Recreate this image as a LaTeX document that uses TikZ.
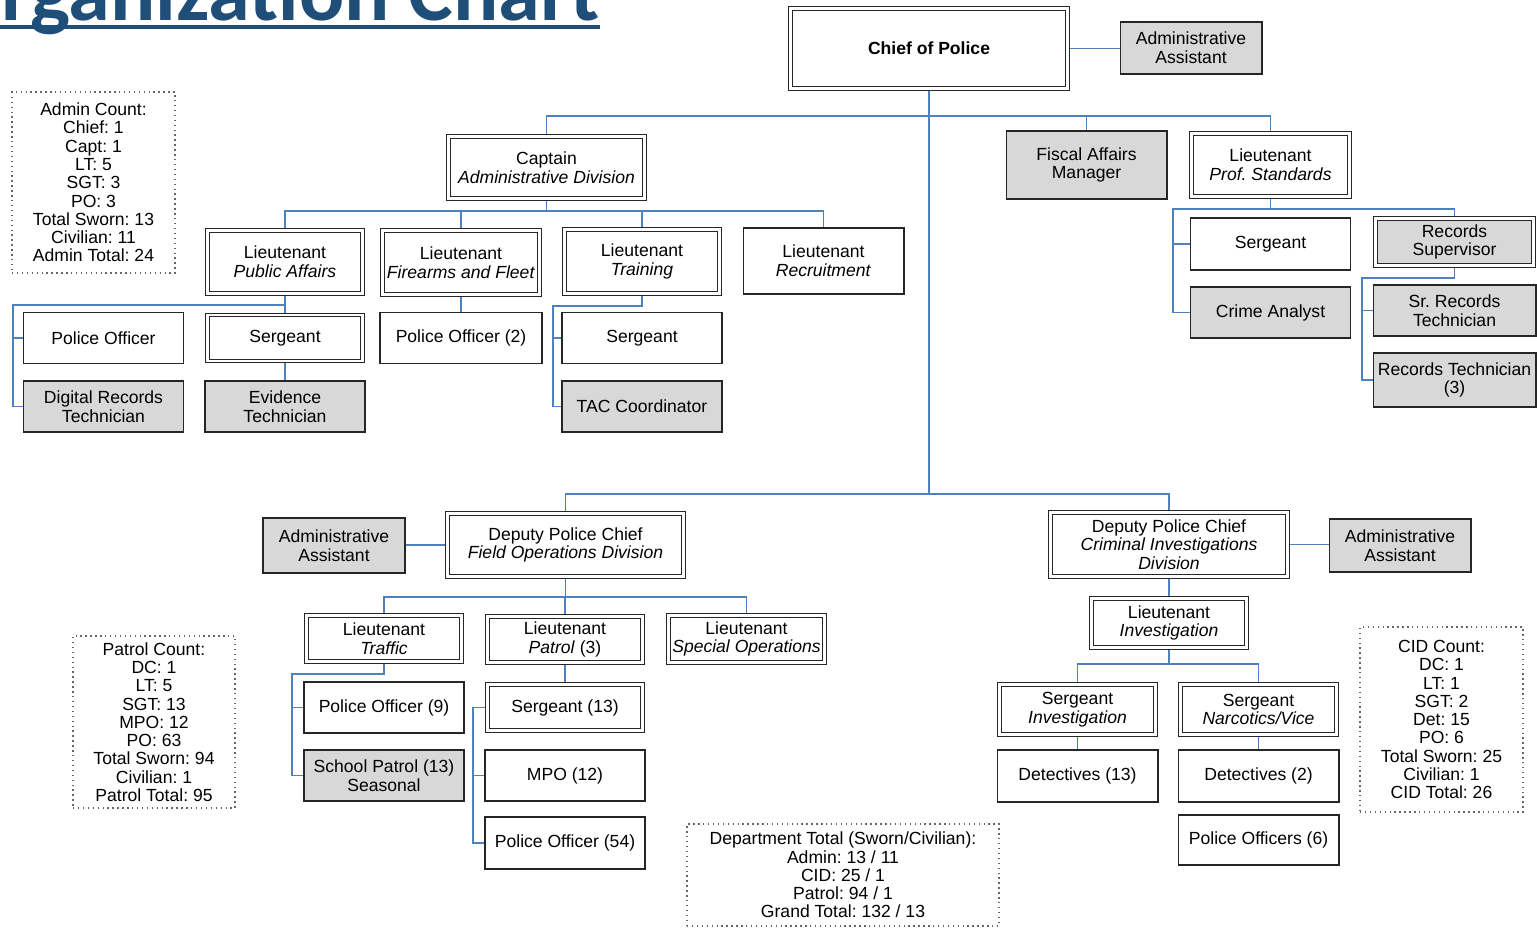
\documentclass[tikz,border=0pt]{standalone}
\usepackage{fontspec}
\setmainfont{Liberation Sans}
\newfontfamily\titlefont{Carlito}
\definecolor{linkblue}{RGB}{79,129,189}
\definecolor{boxgray}{RGB}{216,216,216}
\definecolor{titleblue}{RGB}{31,78,121}
\frenchspacing

\begin{document}
\begin{tikzpicture}[x=0.02cm, y=-0.02cm,
	every node/.style={font=\fontsize{10}{10.6}\selectfont, align=center, inner sep=0pt},
	box/.style={draw=black!85, line width=0.6pt, fill=white, minimum width=3.2cm, minimum height=1.02cm},
	dbox/.style={box, double, double distance=1.4pt, outer sep=1.3pt, minimum width=3.1cm, minimum height=0.92cm},
	gbox/.style={box, fill=boxgray},
	link/.style={linkblue, line width=0.6pt},
	tally/.style={draw=black!60, dotted, line width=0.8pt, minimum width=3.26cm, font=\fontsize{10}{10.4}\selectfont}]

	\useasboundingbox (0,0) rectangle (1537,930);
	\clip (0,0) rectangle (1537,930);

	\node[anchor=base west, font=\titlefont\bfseries\fontsize{48}{48}\selectfont, text=titleblue] (title) at (-56,20) {Organization Chart};
	\draw[titleblue, line width=2.3pt] ([yshift=-4pt]title.base west) -- ([yshift=-4pt]title.base east);

	\node[dbox, minimum width=5.54cm, minimum height=1.6cm] (chief) at (929,48.5) {\textbf{Chief of Police}};
	\node[gbox, minimum width=2.84cm, minimum height=1.04cm] (aa1) at (1191,48) {Administrative\\Assistant};

	\node[dbox, minimum width=3.92cm, minimum height=1.24cm] (capt) at (546.5,167.5) {Captain\\\textit{Administrative Division}};
	\node[gbox, minimum width=3.22cm, minimum height=1.36cm] (fiscal) at (1086.5,165) {Fiscal Affairs\\Manager};
	\node[dbox, minimum width=3.16cm, minimum height=1.26cm] (ltprof) at (1270.5,165) {Lieutenant\\\textit{Prof. Standards}};

	\node[dbox, minimum height=1.26cm] (ltpa) at (285,262) {Lieutenant\\\textit{Public Affairs}};
	\node[dbox, minimum width=3.14cm, minimum height=1.28cm] (ltff) at (461,262.5) {Lieutenant\\\textit{Firearms and Fleet}};
	\node[dbox, minimum height=1.28cm] (lttr) at (642,261.5) {Lieutenant\\\textit{Training}};
	\node[box, minimum width=3.22cm, minimum height=1.32cm] (ltrec) at (823.5,261) {Lieutenant\\\textit{Recruitment}};

	\node[box] (po1) at (103.5,338) {Police Officer};
	\node[dbox] (sgt1) at (285,338) {Sergeant};
	\node[gbox] (drt) at (103.5,406.5) {Digital Records\\Technician};
	\node[gbox] (evt) at (285,406.5) {Evidence\\Technician};
	\node[box, minimum width=3.24cm] (po2) at (461,338) {Police Officer (2)};
	\node[box] (sgt2) at (642,338) {Sergeant};
	\node[gbox] (tac) at (642,406.5) {TAC Coordinator};

	\node[box, minimum height=1.04cm] (sgt3) at (1270.5,244) {Sergeant};
	\node[gbox] (crime) at (1270.5,312.5) {Crime Analyst};
	\node[dbox, fill=boxgray, minimum width=3.16cm, minimum height=0.94cm] (recsup) at (1454.5,242) {Records\\Supervisor};
	\node[gbox, minimum width=3.26cm] (srrec) at (1454.5,310.5) {Sr. Records\\Technician};
	\node[gbox, minimum width=3.26cm, minimum height=1.08cm] (rectech) at (1454.5,380) {Records Technician\\(3)};

	\node[dbox, minimum width=4.72cm, minimum height=1.26cm] (dcfo) at (565.5,545) {Deputy Police Chief\\\textit{Field Operations Division}};
	\node[gbox, minimum width=2.84cm, minimum height=1.1cm] (aa2) at (334,545.5) {Administrative\\Assistant};
	\node[dbox, minimum width=4.74cm, minimum height=1.28cm] (dccid) at (1169,544.5) {Deputy Police Chief\\\textit{Criminal Investigations}\\\textit{Division}};
	\node[gbox, minimum width=2.84cm, minimum height=1.06cm] (aa3) at (1400,545.5) {Administrative\\Assistant};

	\node[dbox] (lttraf) at (384,638.5) {Lieutenant\\\textit{Traffic}};
	\node[dbox] (ltpat) at (565,639.5) {Lieutenant\\\textit{Patrol} (3)};
	\node[dbox, minimum width=3.12cm, minimum height=0.94cm] (ltspec) at (746.5,639) {Lieutenant\\\textit{Special Operations}};

	\node[box] (po9) at (384,707.5) {Police Officer (9)};
	\node[gbox] (school) at (384,775.5) {School Patrol (13)\\Seasonal};
	\node[dbox] (sgt13) at (565,707.5) {Sergeant (13)};
	\node[box] (mpo) at (565,775.5) {MPO (12)};
	\node[box, minimum height=1.04cm] (po54) at (565,843) {Police Officer (54)};

	\node[dbox, minimum height=0.98cm] (ltinv) at (1169,623) {Lieutenant\\\textit{Investigation}};
	\node[dbox, minimum width=3.12cm, minimum height=1cm] (sgtinv) at (1077.5,709.5) {Sergeant\\\textit{Investigation}};
	\node[dbox, minimum width=3.12cm, minimum height=1cm] (sgtnarc) at (1258.5,709.5) {Sergeant\\\textit{Narcotics/Vice}};
	\node[box, minimum width=3.22cm, minimum height=1.04cm] (det13) at (1077.5,776) {Detectives (13)};
	\node[box, minimum width=3.22cm, minimum height=1.04cm] (det2) at (1258.5,776) {Detectives (2)};
	\node[box, minimum width=3.22cm, minimum height=1cm] (po6) at (1258.5,840) {Police Officers (6)};

	\node[tally, minimum height=3.62cm] (admcount) at (93.5,182.5) {Admin Count:\\Chief: 1\\Capt: 1\\LT: 5\\SGT: 3\\PO: 3\\Total Sworn: 13\\Civilian: 11\\Admin Total: 24};
	\node[tally, minimum width=3.24cm, minimum height=3.44cm] (patcount) at (154,722) {Patrol Count:\\DC: 1\\LT: 5\\SGT: 13\\MPO: 12\\PO: 63\\Total Sworn: 94\\Civilian: 1\\Patrol Total: 95};
	\node[tally, minimum height=3.7cm] (cidcount) at (1441.5,719.5) {CID Count:\\DC: 1\\LT: 1\\SGT: 2\\Det: 15\\PO: 6\\Total Sworn: 25\\Civilian: 1\\CID Total: 26};
	\node[tally, minimum width=6.24cm, minimum height=2.04cm] (depttotal) at (843,875) {Department Total (Sworn/Civilian):\\Admin: 13 / 11\\CID: 25 / 1\\Patrol: 94 / 1\\Grand Total: 132 / 13};

	\draw[link] (chief.east) -- (chief.east -| aa1.west);
	\coordinate (bus1) at (929,116);
	\draw[link] (capt.north) |- (bus1) -| (ltprof.north);
	\draw[link] (bus1) -| (fiscal.north);

	\coordinate (bus2) at (546.5,211);
	\draw[link] (capt.south) -- (bus2);
	\draw[link] (ltpa.north) |- (bus2) -| (ltrec.north);
	\draw[link] (ltff.north) |- (bus2);
	\draw[link] (lttr.north) |- (bus2);

	\coordinate (paleft) at (13,305);
	\draw[link] (ltpa.south) -- (sgt1.north);
	\draw[link] (sgt1.south) -- (evt.north);
	\draw[link] (ltpa.south |- paleft) -- (paleft) |- (drt.west);
	\draw[link] (paleft) |- (po1.west);
	\draw[link] (ltff.south) -- (po2.north);
	\coordinate (trleft) at (553,306);
	\draw[link] (lttr.south) |- (trleft) |- (tac.west);
	\draw[link] (trleft) |- (sgt2.west);

	\coordinate (psleft) at (1173,209);
	\draw[link] (ltprof.south) |- (psleft) |- (crime.west);
	\draw[link] (psleft) |- (sgt3.west);
	\draw[link] (psleft) -| (recsup.north);
	\coordinate (rsleft) at (1362,278);
	\draw[link] (recsup.south) |- (rsleft) |- (rectech.west);
	\draw[link] (rsleft) |- (srrec.west);

	\coordinate (bus3) at (929,494);
	\draw[link] (chief.south) -- (bus3);
	\draw[link] (dcfo.north) |- (bus3) -| (dccid.north);

	\draw[link] (dcfo.west -| aa2.east) -- (dcfo.west);
	\coordinate (bus4) at (565.5,597);
	\draw[link] (dcfo.south) -- (bus4);
	\draw[link] (lttraf.north) |- (bus4) -| (ltspec.north);
	\draw[link] (ltpat.north) |- (bus4);
	\coordinate (tfleft) at (292,674);
	\draw[link] (lttraf.south) |- (tfleft) |- (school.west);
	\draw[link] (tfleft) |- (po9.west);
	\draw[link] (ltpat.south) -- (sgt13.north);
	\coordinate (ptleft) at (473,707.5);
	\draw[link] (sgt13.west) -- (ptleft) |- (po54.west);
	\draw[link] (ptleft) |- (mpo.west);

	\draw[link] (dccid.east) -- (dccid.east -| aa3.west);
	\draw[link] (dccid.south) -- (ltinv.north);
	\coordinate (bus5) at (1169,664);
	\draw[link] (ltinv.south) -- (bus5);
	\draw[link] (sgtinv.north) |- (bus5) -| (sgtnarc.north);
	\draw[link] (sgtinv.south) -- (det13.north);
	\draw[link] (sgtnarc.south) -- (det2.north);

\end{tikzpicture}
\end{document}
